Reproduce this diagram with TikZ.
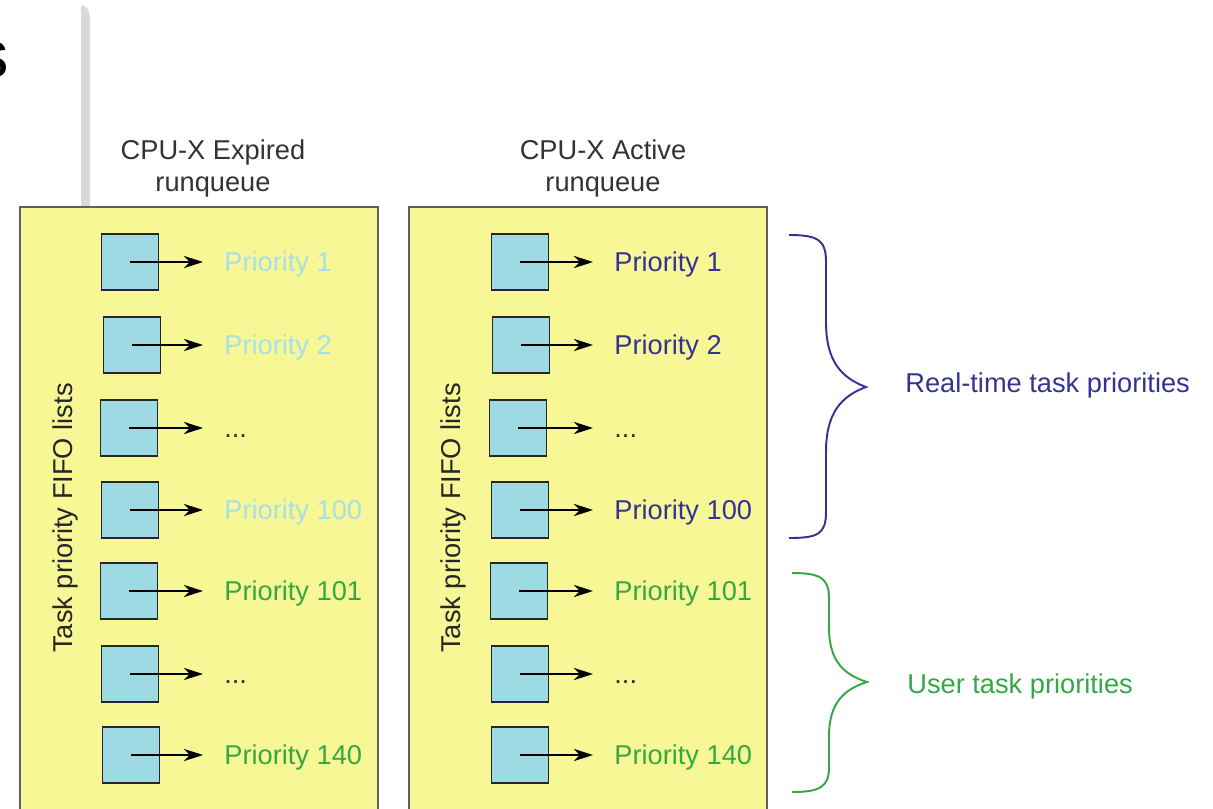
\documentclass[tikz,border=0pt]{standalone}
\usepackage{fontspec}
\setmainfont{Liberation Sans}
\usepackage{tikz}
\usetikzlibrary{arrows.meta,positioning,calc}

\definecolor{panelyellow}{RGB}{247,247,150}
\definecolor{listcyan}{RGB}{158,218,227}
\definecolor{palecyan}{RGB}{170,222,232}
\definecolor{rtblue}{RGB}{51,51,150}
\definecolor{usergreen}{RGB}{51,168,68}
\definecolor{bargrey}{RGB}{217,217,217}
\definecolor{edgegrey}{RGB}{95,95,95}

\begin{document}
\begin{tikzpicture}[x=0.02cm, y=-0.02cm,
    every node/.style={font=\fontsize{15.5}{18.7}\selectfont, inner sep=0pt},
    panel/.style={fill=panelyellow, draw=edgegrey, line width=1.2pt},
    fifo/.style={draw=black!85, fill=listcyan, line width=1.1pt, minimum width=1.14cm, minimum height=1.12cm},
    prio/.style={anchor=west, text height=11pt, text depth=0pt},
    link/.style={-{Stealth[length=11pt, width=7pt]}, line width=1pt, shorten >=0.42cm},
    curly/.style={line width=1.1pt}]
    \useasboundingbox (0,0) rectangle (1213,808);
    \clip (0,0) rectangle (1213,808);

    % cut-off bits of the page around the figure
    \node[font=\fontsize{38}{40}\selectfont, anchor=east] (cut) at (9,60) {s};
    \fill[bargrey] (81,210) -- (81,5) .. controls (86,5) and (90,10) .. (90,20) -- (90,210) -- cycle;

    % the two runqueues
    \fill[panel] (20,207) rectangle (378,840);
    \fill[panel] (409,207) rectangle (767,840);
    \draw[edgegrey, line width=1.2pt] (20,840) |- (378,207) -- (378,840);
    \draw[edgegrey, line width=1.2pt] (409,840) |- (767,207) -- (767,840);

    \node[anchor=north, align=center, text=black!80] (expt) at (213,139) {CPU-X Expired\\runqueue};
    \node[anchor=north, align=center, text=black!80] (actt) at (603,139) {CPU-X Active\\runqueue};

    \node[rotate=90, anchor=base, text=black!85] (efifo) at (72,518) {Task priority FIFO lists};
    \node[rotate=90, anchor=base, text=black!85] (afifo) at (460,518) {Task priority FIFO lists};

    % expired lists
    \node[fifo] (e1) at (130,262) {}; \node[prio, palecyan] (el1) at (224,262) {Priority 1};
    \node[fifo] (e2) at (132,345) {}; \node[prio, palecyan] (el2) at (224,345) {Priority 2};
    \node[fifo] (e3) at (129,428) {}; \node[prio, black!80] (el3) at (224,428) {...};
    \node[fifo] (e4) at (130,510) {}; \node[prio, palecyan] (el4) at (224,510) {Priority 100};
    \node[fifo] (e5) at (129,591) {}; \node[prio, usergreen] (el5) at (224,591) {Priority 101};
    \node[fifo] (e6) at (130,674) {}; \node[prio, black!80] (el6) at (224,674) {...};
    \node[fifo] (e7) at (131,755) {}; \node[prio, usergreen] (el7) at (224,755) {Priority 140};
    \draw[link] (e1.center) -- (el1.west);
    \draw[link] (e2.center) -- (el2.west);
    \draw[link] (e3.center) -- (el3.west);
    \draw[link] (e4.center) -- (el4.west);
    \draw[link] (e5.center) -- (el5.west);
    \draw[link] (e6.center) -- (el6.west);
    \draw[link] (e7.center) -- (el7.west);

    % active lists
    \node[fifo] (a1) at (520,262) {}; \node[prio, rtblue] (al1) at (614,262) {Priority 1};
    \node[fifo] (a2) at (521,345) {}; \node[prio, rtblue] (al2) at (614,345) {Priority 2};
    \node[fifo] (a3) at (518,428) {}; \node[prio, black!80] (al3) at (614,428) {...};
    \node[fifo] (a4) at (520,510) {}; \node[prio, rtblue] (al4) at (614,510) {Priority 100};
    \node[fifo] (a5) at (519,591) {}; \node[prio, usergreen] (al5) at (614,591) {Priority 101};
    \node[fifo] (a6) at (520,674) {}; \node[prio, black!80] (al6) at (614,674) {...};
    \node[fifo] (a7) at (520,755) {}; \node[prio, usergreen] (al7) at (614,755) {Priority 140};
    \draw[link] (a1.center) -- (al1.west);
    \draw[link] (a2.center) -- (al2.west);
    \draw[link] (a3.center) -- (al3.west);
    \draw[link] (a4.center) -- (al4.west);
    \draw[link] (a5.center) -- (al5.west);
    \draw[link] (a6.center) -- (al6.west);
    \draw[link] (a7.center) -- (al7.west);

    % priority ranges
    \draw[curly, rtblue] (789,235) .. controls (818,235) and (826,240) .. (826,262)
        -- (826,322) .. controls (826,362) and (842,378) .. (866,387)
        .. controls (842,396) and (826,412) .. (826,452)
        -- (826,512) .. controls (826,534) and (818,538) .. (789,538);
    \node[prio, rtblue] (rtlbl) at (905,383) {Real-time task priorities};

    \draw[curly, usergreen] (792,573) .. controls (820,573) and (829,578) .. (829,598)
        -- (829,628) .. controls (829,662) and (845,675) .. (867,682)
        .. controls (845,689) and (829,702) .. (829,736)
        -- (829,767) .. controls (829,787) and (820,792) .. (792,792);
    \node[prio, usergreen] (userlbl) at (907,684) {User task priorities};
\end{tikzpicture}
\end{document}
